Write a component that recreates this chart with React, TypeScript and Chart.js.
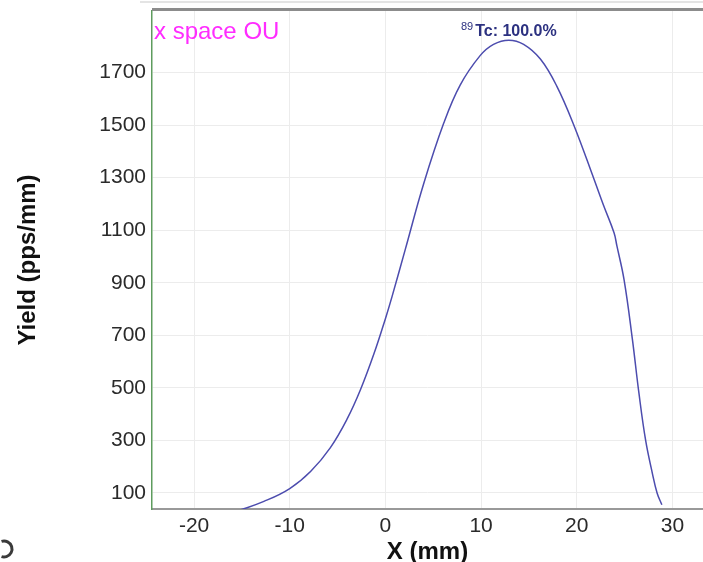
import React, { useEffect, useRef } from "react";
import { Chart, registerables } from "chart.js";

Chart.register(...registerables);

const xValues = [
  -15.5, -12.7, -10.0, -7.8, -5.75, -4.0, -2.6, -1.2, 0, 0.7, 2.1, 4.0, 6.1, 7.8, 9.9, 11.3,
  12.9, 14.45, 16.2, 17.9, 19.7, 21.8, 22.8, 23.9, 24.2, 24.95, 25.8, 26.5, 27.2, 27.9, 28.4, 28.9,
];
const yieldValues = [
  30, 67, 116, 182, 272, 381, 493, 629, 763, 848, 1030, 1277, 1508, 1652, 1765, 1808,
  1824, 1808, 1752, 1650, 1500, 1295, 1195, 1090, 1040, 911, 690, 480, 300, 175, 99, 54,
];
const xTicks = [-20, -10, 0, 10, 20, 30];
const yTicks = [100, 300, 500, 700, 900, 1100, 1300, 1500, 1700];
const xRange = [-24.4, 33.2];
const yRange = [38, 1935];
const panelTitle = "x space OU";
const peakIsotope = "89";
const peakLabel = "Tc: 100.0%";
const xTitle = "X (mm)";
const yTitle = "Yield (pps/mm)";

const FONT = "'Liberation Sans', Arial, sans-serif";

const decorPlugin = {
  id: "decor",
  afterDraw(chart: any) {
    const { ctx, chartArea, scales } = chart;
    ctx.save();
    // top frame lines
    ctx.strokeStyle = "#e4e4e4";
    ctx.lineWidth = 2;
    ctx.beginPath();
    ctx.moveTo(140, 2);
    ctx.lineTo(chartArea.right, 2);
    ctx.stroke();
    ctx.strokeStyle = "#8c8c8c";
    ctx.lineWidth = 3;
    ctx.beginPath();
    ctx.moveTo(chartArea.left, chartArea.top - 1.5);
    ctx.lineTo(chartArea.right, chartArea.top - 1.5);
    ctx.stroke();

    // panel title
    ctx.fillStyle = "#ff2cff";
    ctx.font = `24px ${FONT}`;
    ctx.textAlign = "left";
    ctx.textBaseline = "alphabetic";
    ctx.fillText(panelTitle, chartArea.left + 2, 38.5);

    // peak label
    let pi = 0;
    yieldValues.forEach((v, i) => {
      if (v > yieldValues[pi]) pi = i;
    });
    const px = scales.x.getPixelForValue(xValues[pi]);
    ctx.font = `bold 16px ${FONT}`;
    const wMain = ctx.measureText(peakLabel).width;
    ctx.font = `11px ${FONT}`;
    const wSup = ctx.measureText(peakIsotope).width + 2;
    const start = px - (wMain + wSup) / 2;
    ctx.fillStyle = "#2c3180";
    ctx.fillText(peakIsotope, start, 30);
    ctx.font = `bold 16px ${FONT}`;
    ctx.fillText(peakLabel, start + wSup, 36);

    // partial icon bottom-left
    ctx.lineWidth = 3;
    ctx.strokeStyle = "#3a3a3a";
    ctx.beginPath();
    ctx.arc(4, 549, 8, -Math.PI * 0.6, Math.PI * 0.6);
    ctx.stroke();
    ctx.strokeStyle = "#2ee6f0";
    ctx.beginPath();
    ctx.arc(4, 549, 8, Math.PI * 0.75, Math.PI * 1.15);
    ctx.stroke();
    ctx.restore();
  },
};

export default function App() {
  const ref = useRef<HTMLCanvasElement | null>(null);
  useEffect(() => {
    if (!ref.current) return;
    const chart = new Chart(ref.current, {
      type: "line",
      data: {
        datasets: [
          {
            data: xValues.map((x, i) => ({ x, y: yieldValues[i] })),
            borderColor: "#4c4cae",
            borderWidth: 1.5,
            pointRadius: 0,
            fill: false,
            tension: 0.4,
          },
        ],
      },
      options: {
        animation: false,
        responsive: false,
        layout: { padding: { left: 0, right: 0, top: 11, bottom: 0 } },
        plugins: { legend: { display: false }, tooltip: { enabled: false } },
        scales: {
          x: {
            type: "linear",
            min: xRange[0],
            max: xRange[1],
            afterBuildTicks: (axis: any) => {
              axis.ticks = xTicks.map((v) => ({ value: v }));
            },
            afterFit: (s: any) => {
              s.height = 53;
              s.paddingLeft = 0;
              s.paddingRight = 0;
            },
            grid: { color: "#ececec", lineWidth: 1, drawTicks: false },
            border: { color: "#999999", width: 2 },
            ticks: {
              color: "#2a2a2a",
              font: { family: FONT, size: 21 },
              padding: 5,
              maxRotation: 0,
              autoSkip: false,
              callback: (v: any) => String(v),
            },
            title: {
              display: true,
              text: xTitle,
              color: "#111111",
              font: { family: FONT, size: 24, weight: "bold" },
              padding: { top: 0, bottom: -5 },
            },
          },
          y: {
            type: "linear",
            min: yRange[0],
            max: yRange[1],
            afterBuildTicks: (axis: any) => {
              axis.ticks = yTicks.map((v) => ({ value: v }));
            },
            afterFit: (s: any) => {
              s.width = 152;
              s.paddingTop = 0;
              s.paddingBottom = 0;
            },
            grid: { color: "#ececec", lineWidth: 1, drawTicks: false },
            border: { color: "#5e9c5e", width: 1.5 },
            ticks: {
              color: "#2a2a2a",
              font: { family: FONT, size: 21 },
              padding: 6,
              autoSkip: false,
              callback: (v: any) => String(v),
            },
            title: {
              display: true,
              text: yTitle,
              color: "#111111",
              font: { family: FONT, size: 24, weight: "bold" },
              padding: { top: 14, bottom: 0 },
            },
          },
        },
      },
      plugins: [decorPlugin],
    } as any);
    return () => chart.destroy();
  }, []);
  return (
    <div style={{ position: "fixed", left: 0, top: 0, width: 703, height: 562, background: "#fff" }}>
      <canvas ref={ref} width={703} height={562} style={{ display: "block" }} />
    </div>
  );
}
